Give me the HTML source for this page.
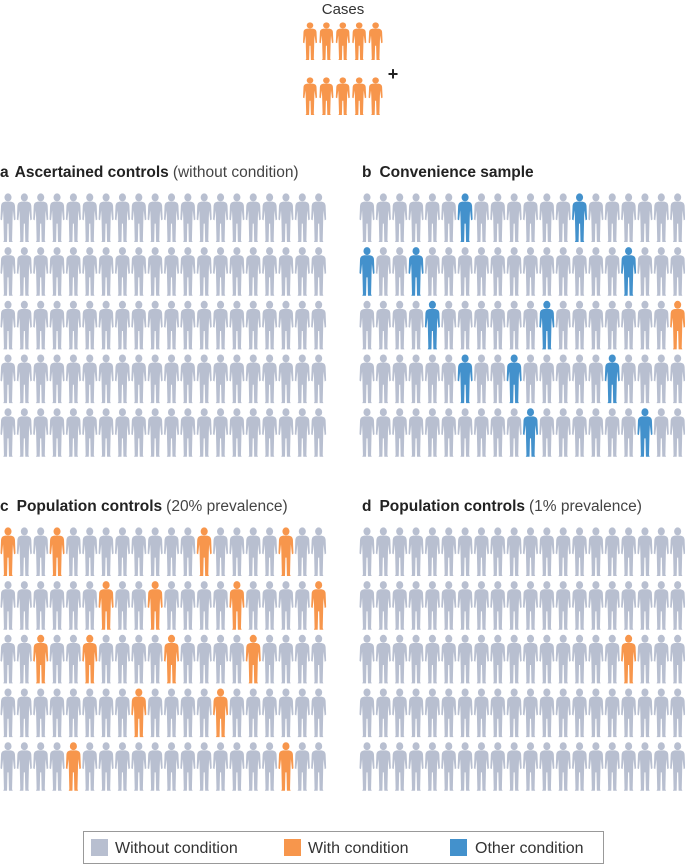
<!DOCTYPE html>
<html><head><meta charset="utf-8">
<style>
body{margin:0;background:#fff;font-family:"Liberation Sans",sans-serif;}
#root{position:relative;width:685px;height:865px;overflow:hidden;}
svg{position:absolute;left:0;top:0;}
</style></head>
<body>
<div id="root">
<svg id="chart" width="685" height="865" viewBox="0 0 685 865">
<defs>
<g id="person">
<ellipse cx="7" cy="4.3" rx="3.3" ry="3.9"/>
<path d="M4.3,8.4 L9.7,8.4 Q13.3,8.9 13.5,12.5 L14,26 L12.6,26.8 L11.6,17 L11.3,24 L10.8,46.5 L11.4,48 L7.9,48 L7.5,30 L6.5,30 L6.1,48 L2.6,48 L3.2,46.5 L2.7,24 L2.4,17 L1.4,26.8 L0,26 L0.5,12.5 Q0.7,8.9 4.3,8.4 Z"/>
</g>
</defs>
<text x="343" y="14" text-anchor="middle" font-size="15" fill="#333">Cases</text>
<text x="393" y="80" text-anchor="middle" font-size="18" font-weight="bold" fill="#222">+</text>
<g id="titles">
<text x="0" y="177" font-size="15.5" fill="#222"><tspan font-weight="bold">a</tspan><tspan font-weight="bold" dx="6">Ascertained controls</tspan><tspan dx="4" fill="#444">(without condition)</tspan></text>
<text x="362" y="177" font-size="15.5" fill="#222"><tspan font-weight="bold">b</tspan><tspan font-weight="bold" dx="8">Convenience sample</tspan></text>
<text x="0" y="511" font-size="15.5" fill="#222"><tspan font-weight="bold">c</tspan><tspan font-weight="bold" dx="8">Population controls</tspan><tspan dx="4" fill="#444">(20% prevalence)</tspan></text>
<text x="362" y="511" font-size="15.5" fill="#222"><tspan font-weight="bold">d</tspan><tspan font-weight="bold" dx="8">Population controls</tspan><tspan dx="4" fill="#444">(1% prevalence)</tspan></text>
</g>
<g>
<rect x="83.5" y="831.5" width="520" height="32" fill="#fff" stroke="#999" stroke-width="1"/>
<rect x="91" y="839" width="17" height="17" fill="#b8bfd0"/>
<text x="115" y="853" font-size="16" fill="#333">Without condition</text>
<rect x="284" y="839" width="17" height="17" fill="#f7964c"/>
<text x="308" y="853" font-size="16" fill="#333">With condition</text>
<rect x="450" y="839" width="17" height="17" fill="#4391cc"/>
<text x="475" y="853" font-size="16" fill="#333">Other condition</text>
</g>
</svg>
</div>
<script>
// Data: highlighted column indices per row (5 rows x 20 columns per panel)
const casesCount = [5, 5];
const panelAWith = [[], [], [], [], []];
const panelBOther = [[6, 13], [0, 3, 16], [4, 11], [6, 9, 15], [10, 17]];
const panelBWith = [[], [], [19], [], []];
const panelCWith = [[0, 3, 12, 17], [6, 9, 14, 19], [2, 5, 10, 15], [8, 13], [4, 17]];
const panelDWith = [[], [], [16], [], []];
const nCols = 20;
const nRows = 5;

const COLORS = {none: '#b8bfd0', with: '#f7964c', other: '#4391cc'};
const svg = document.getElementById('chart');
const NS = 'http://www.w3.org/2000/svg';

function colX(x0, i) { return x0 + i * 16.35; }
function rowY(y0, r) { return y0 + r * 53.7; }

function person(g, cx, top, w, h, color) {
  const u = document.createElementNS(NS, 'use');
  u.setAttribute('href', '#person');
  u.setAttribute('transform', 'translate(' + (cx - w / 2) + ',' + top + ') scale(' + (w / 14) + ',' + (h / 48) + ')');
  u.setAttribute('fill', color);
  g.appendChild(u);
  return u;
}

function panel(name, x0, y0, withArr, otherArr) {
  const g = document.createElementNS(NS, 'g');
  
  
  svg.appendChild(g);
  for (let r = 0; r < nRows; r++) {
    for (let c = 0; c < nCols; c++) {
      let status = 'none';
      if (withArr[r].indexOf(c) >= 0) status = 'with';
      if (otherArr && otherArr[r].indexOf(c) >= 0) status = 'other';
      const el = person(g, colX(x0, c), rowY(y0, r), 15, 49, COLORS[status]);
      
      
    }
  }
}

// Cases
const cg = document.createElementNS(NS, 'g');


svg.appendChild(cg);
for (let r = 0; r < casesCount.length; r++) {
  for (let c = 0; c < casesCount[r]; c++) {
    const el = person(cg, 310 + c * 16.4, 22 + r * 55, 14, 38, COLORS.with);
    
    
  }
}

panel('panel-a-grid', 8, 193, panelAWith, null);
panel('panel-b-grid', 367, 193, panelBWith, panelBOther);
panel('panel-c-grid', 8, 527, panelCWith, null);
panel('panel-d-grid', 367, 527, panelDWith, null);
</script>
</body></html>
